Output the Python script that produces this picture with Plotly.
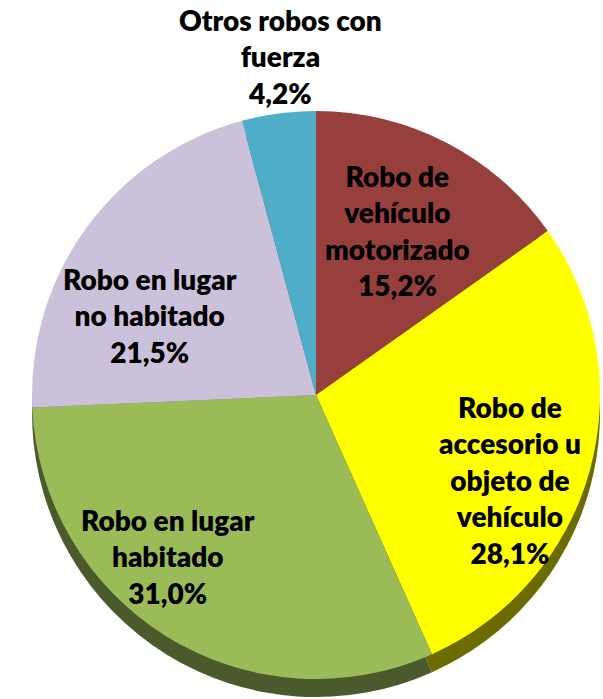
import math
import plotly.graph_objects as go

# ---- data ----
categories = [
    "Robo de vehículo motorizado",
    "Robo de accesorio u objeto de vehículo",
    "Robo en lugar habitado",
    "Robo en lugar no habitado",
    "Otros robos con fuerza",
]
label_lines = [
    "Robo de<br>vehículo<br>motorizado",
    "Robo de<br>accesorio u<br>objeto de<br>vehículo",
    "Robo en lugar<br>habitado",
    "Robo en lugar<br>no habitado",
    "Otros robos con<br>fuerza",
]
values = [15.2, 28.1, 31.0, 21.5, 4.2]

# ---- style ----
top_colors = ["#973F3D", "#FFFF00", "#9BBB59", "#CCC1DA", "#4FADC7"]
side_colors = ["#4E1F1E", "#6B6B00", "#4B5A2C", "#6A6475", "#28606F"]
label_r = [0.645, 0.746, 0.77, 0.65, 1.198]
label_dtheta = [-1.0, 8.4, 10.9, -10.5, 1.5]

W, H = 603, 699
CX, CY, R, DEPTH = 316, 395, 284, 18


def dom(cx, cy, r):
    return dict(
        x=[(cx - r) / W, (cx + r) / W],
        y=[(H - cy - r) / H, (H - cy + r) / H],
    )


fig = go.Figure()
fig.add_trace(go.Pie(
    labels=categories, values=values, sort=False, direction="clockwise",
    rotation=0, textinfo="none", hoverinfo="skip", showlegend=False,
    marker=dict(colors=side_colors, line=dict(width=0)),
    domain=dom(CX, CY + DEPTH, R),
))
fig.add_trace(go.Pie(
    labels=categories, values=values, sort=False, direction="clockwise",
    rotation=0, textinfo="none", hoverinfo="skip", showlegend=False,
    marker=dict(colors=top_colors, line=dict(width=0)),
    domain=dom(CX, CY, R),
))

total = sum(values)
cum = 0.0
for i, v in enumerate(values):
    mid = (cum + v / 2) / total * 360 + label_dtheta[i]
    cum += v
    rad = math.radians(mid)
    px = CX + label_r[i] * R * math.sin(rad)
    py = CY - label_r[i] * R * math.cos(rad)
    txt = label_lines[i] + "<br>" + f"{v:.1f}".replace(".", ",") + "%"
    fig.add_annotation(
        x=px / W, y=(H - py) / H, xref="paper", yref="paper",
        text=txt, showarrow=False, align="center",
        xanchor="center", yanchor="middle",
        font=dict(family="Lato", size=28, color="#000000", weight=800),
    )

fig.update_layout(
    width=W, height=H,
    margin=dict(l=0, r=0, t=0, b=0),
    paper_bgcolor="white", plot_bgcolor="white",
)
fig.write_html(
    "out.html",
    config={"displayModeBar": False},
    post_script="document.body.style.margin='0';document.body.style.padding='0';",
)
